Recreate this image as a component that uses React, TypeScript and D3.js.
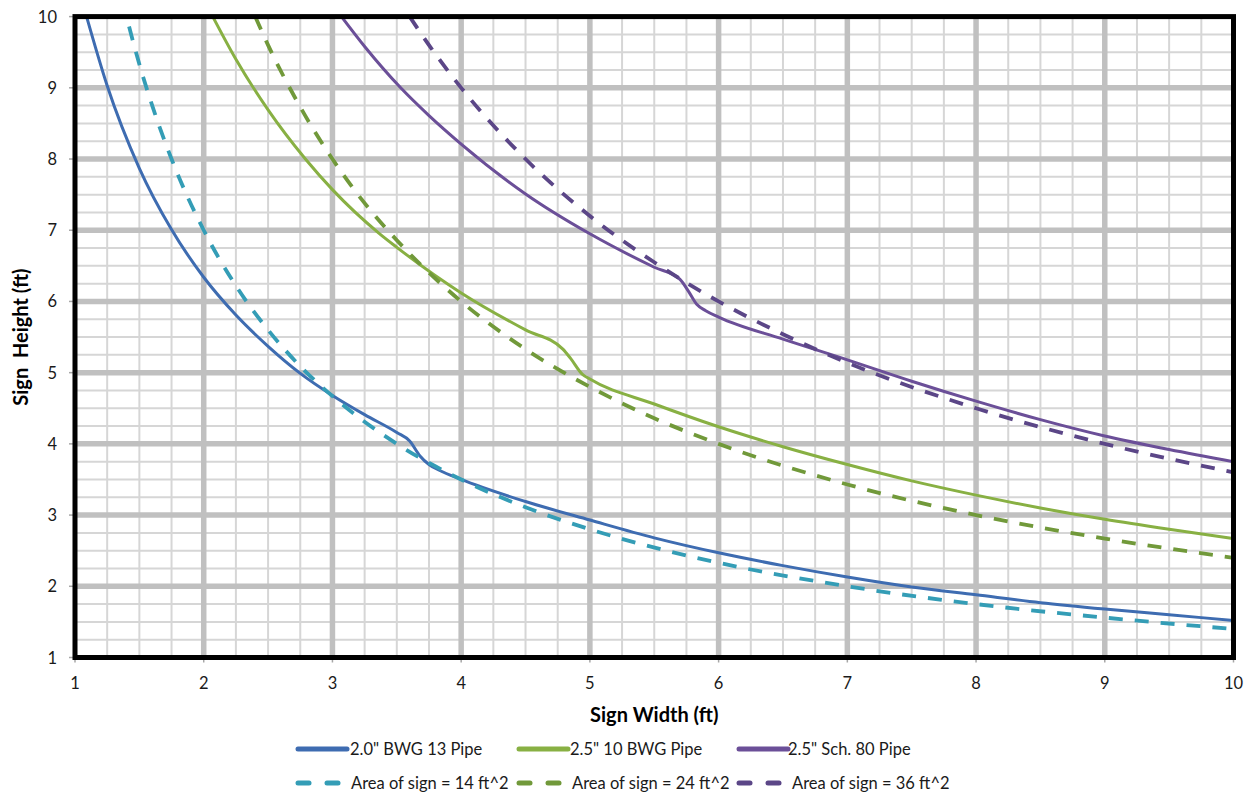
import React from "react";
import * as d3 from "d3";

// ---- data ----
const blueX = [1.09, 1.25, 1.5, 1.75, 2.0, 2.25, 2.5, 2.75, 3.0, 3.25, 3.5, 3.6, 3.68, 3.75, 3.83, 4.0, 4.5, 5.0, 5.5, 6.0, 6.5, 7.0, 7.5, 8.0, 8.5, 9.0, 9.5, 10.0];
const blueY = [10, 9.03, 7.87, 7.01, 6.34, 5.81, 5.37, 4.99, 4.68, 4.41, 4.16, 4.04, 3.83, 3.71, 3.63, 3.5, 3.19, 2.93, 2.68, 2.47, 2.29, 2.13, 1.99, 1.88, 1.77, 1.68, 1.6, 1.52];

const greenX = [2.07, 2.25, 2.5, 2.79, 3.0, 3.36, 3.5, 4.0, 4.5, 4.79, 4.85, 4.94, 5.0, 5.5, 6.0, 6.5, 7.0, 7.5, 8.0, 8.5, 9.0, 9.5, 10];
const greenY = [10, 9.4, 8.69, 8.0, 7.57, 6.96, 6.76, 6.12, 5.6, 5.33, 5.2, 4.98, 4.91, 4.56, 4.24, 3.96, 3.71, 3.48, 3.28, 3.1, 2.94, 2.8, 2.67];

const purpleX = [3.07, 3.25, 3.53, 3.75, 4.0, 4.5, 5.0, 5.5, 5.7, 5.77, 5.83, 5.9, 6.0, 6.5, 7.0, 7.5, 8.0, 8.5, 9.0, 9.5, 10];
const purpleY = [10, 9.58, 9.0, 8.61, 8.21, 7.51, 6.95, 6.48, 6.31, 6.13, 5.96, 5.87, 5.78, 5.47, 5.18, 4.88, 4.6, 4.34, 4.11, 3.92, 3.75];

const area14X = [1.42, 1.5, 1.6, 1.75, 2, 2.25, 2.5, 2.75, 3, 3.5, 4, 4.5, 5, 6, 7, 8, 9, 10];
const area14Y = [9.86, 9.33, 8.75, 8.0, 7.0, 6.22, 5.6, 5.09, 4.67, 4.0, 3.5, 3.11, 2.8, 2.33, 2.0, 1.75, 1.56, 1.4];

const area24X = [2.4, 2.5, 2.75, 3, 3.25, 3.5, 4, 4.5, 5, 5.5, 6, 7, 8, 9, 10];
const area24Y = [10, 9.6, 8.73, 8.0, 7.38, 6.86, 6.0, 5.33, 4.8, 4.36, 4.0, 3.43, 3.0, 2.67, 2.4];

const area36X = [3.6, 3.75, 4, 4.5, 5, 5.5, 6, 6.5, 7, 8, 9, 10];
const area36Y = [10, 9.6, 9.0, 8.0, 7.2, 6.55, 6.0, 5.54, 5.14, 4.5, 4.0, 3.6];

const xTicks = [1, 2, 3, 4, 5, 6, 7, 8, 9, 10];
const yTicks = [1, 2, 3, 4, 5, 6, 7, 8, 9, 10];

const seriesNames = [
  '2.0" BWG 13 Pipe',
  '2.5" 10 BWG Pipe',
  '2.5" Sch. 80 Pipe',
  "Area of sign = 14 ft^2",
  "Area of sign = 24 ft^2",
  "Area of sign = 36 ft^2",
];

const xTitle = "Sign Width (ft)";
const yTitle = "Sign  Height (ft)";

// ---- layout / style ----
const W = 1252;
const H = 797;
const PL = 75, PR = 1233.5, PT = 16.6, PB = 657.5;
const FONT = "Lato, 'Open Sans', sans-serif";

const series = [
  { name: seriesNames[0], xs: blueX, ys: blueY, color: "#3E6CB1", dashed: false },
  { name: seriesNames[1], xs: greenX, ys: greenY, color: "#88B043", dashed: false },
  { name: seriesNames[2], xs: purpleX, ys: purpleY, color: "#6B4F98", dashed: false },
  { name: seriesNames[3], xs: area14X, ys: area14Y, color: "#349DB6", dashed: true },
  { name: seriesNames[4], xs: area24X, ys: area24Y, color: "#71993A", dashed: true },
  { name: seriesNames[5], xs: area36X, ys: area36Y, color: "#5B4687", dashed: true },
];

export default function App() {
  const x = d3.scaleLinear().domain([1, 10]).range([PL, PR]);
  const y = d3.scaleLinear().domain([1, 10]).range([PB, PT]);

  const minor = d3.range(1, 10.001, 0.25).filter((v) => Math.abs(v - Math.round(v)) > 1e-6);

  const line = d3
    .line<[number, number]>()
    .x((d) => x(d[0]))
    .y((d) => y(d[1]))
    .curve(d3.curveMonotoneX);

  const legendRow1 = [
    { s: series[0], lx: 296, tx: 350 },
    { s: series[1], lx: 517, tx: 570 },
    { s: series[2], lx: 737, tx: 788 },
  ];
  const legendRow2 = [
    { s: series[3], lx: 296, tx: 351 },
    { s: series[4], lx: 517, tx: 572 },
    { s: series[5], lx: 737, tx: 792 },
  ];

  return (
    <svg width={W} height={H} style={{ position: "absolute", left: 0, top: 0, background: "#fff" }}>
      <defs>
        <clipPath id="plotClip">
          <rect x={PL} y={PT} width={PR - PL} height={PB - PT} />
        </clipPath>
      </defs>
      {/* minor grid */}
      <g stroke="#D6D6D6" strokeWidth={2}>
        {minor.map((v) => (
          <line key={"mx" + v} x1={x(v)} x2={x(v)} y1={PT} y2={PB} />
        ))}
        {minor.map((v) => (
          <line key={"my" + v} x1={PL} x2={PR} y1={y(v)} y2={y(v)} />
        ))}
      </g>
      {/* major grid */}
      <g stroke="#C0C0C0" strokeWidth={5.5}>
        {xTicks.slice(1, -1).map((v) => (
          <line key={"Mx" + v} x1={x(v)} x2={x(v)} y1={PT} y2={PB} />
        ))}
        {yTicks.slice(1, -1).map((v) => (
          <line key={"My" + v} x1={PL} x2={PR} y1={y(v)} y2={y(v)} />
        ))}
      </g>
      {/* ticks */}
      <g stroke="#A6A6A6" strokeWidth={1.5}>
        {xTicks.map((v) => (
          <line key={"tx" + v} x1={x(v)} x2={x(v)} y1={PB} y2={PB + 5} />
        ))}
        {yTicks.map((v) => (
          <line key={"ty" + v} x1={PL - 6} x2={PL} y1={y(v)} y2={y(v)} />
        ))}
      </g>
      {/* series */}
      <g clipPath="url(#plotClip)" fill="none">
        {series.map((s) => (
          <path
            key={s.name}
            d={line(s.xs.map((xv, i) => [xv, s.ys[i]] as [number, number])) || ""}
            stroke={s.color}
            strokeWidth={s.dashed ? 3.8 : 3}
            strokeDasharray={s.dashed ? "14 12" : undefined}
            strokeLinejoin="round"
          />
        ))}
      </g>
      {/* frame */}
      <rect x={PL} y={PT} width={PR - PL} height={PB - PT} fill="none" stroke="#000" strokeWidth={5} />
      {/* tick labels */}
      <g fontFamily={FONT} fontSize={16.5} fill="#1a1a1a">
        {xTicks.map((v) => (
          <text key={"lx" + v} x={x(v)} y={683} textAnchor="middle" dominantBaseline="central">
            {v}
          </text>
        ))}
        {yTicks.map((v) => (
          <text key={"ly" + v} x={57} y={y(v)} textAnchor="end" dominantBaseline="central">
            {v}
          </text>
        ))}
      </g>
      {/* axis titles */}
      <text x={(PL + PR) / 2} y={714} textAnchor="middle" dominantBaseline="central" fontFamily={FONT} fontWeight="bold" fontSize={20} fill="#000">
        {xTitle}
      </text>
      <text
        transform={`translate(20,${(PT + PB) / 2}) rotate(-90)`}
        textAnchor="middle"
        dominantBaseline="central"
        fontFamily={FONT}
        fontWeight="bold"
        fontSize={20}
        fill="#000"
        style={{ whiteSpace: "pre" }}
      >
        {yTitle}
      </text>
      {/* legend */}
      <g fontFamily={FONT} fontSize={16.5} fill="#1a1a1a">
        {legendRow1.map((e) => (
          <g key={e.s.name}>
            <line x1={e.lx + 2} x2={e.lx + 51} y1={749} y2={749} stroke={e.s.color} strokeWidth={5} strokeLinecap="round" />
            <text x={e.tx} y={749} dominantBaseline="central">
              {e.s.name}
            </text>
          </g>
        ))}
        {legendRow2.map((e) => (
          <g key={e.s.name}>
            <line x1={e.lx + 2} x2={e.lx + 13} y1={783} y2={783} stroke={e.s.color} strokeWidth={5} strokeLinecap="round" />
            <line x1={e.lx + 31} x2={e.lx + 42} y1={783} y2={783} stroke={e.s.color} strokeWidth={5} strokeLinecap="round" />
            <text x={e.tx} y={783} dominantBaseline="central">
              {e.s.name}
            </text>
          </g>
        ))}
      </g>
    </svg>
  );
}
